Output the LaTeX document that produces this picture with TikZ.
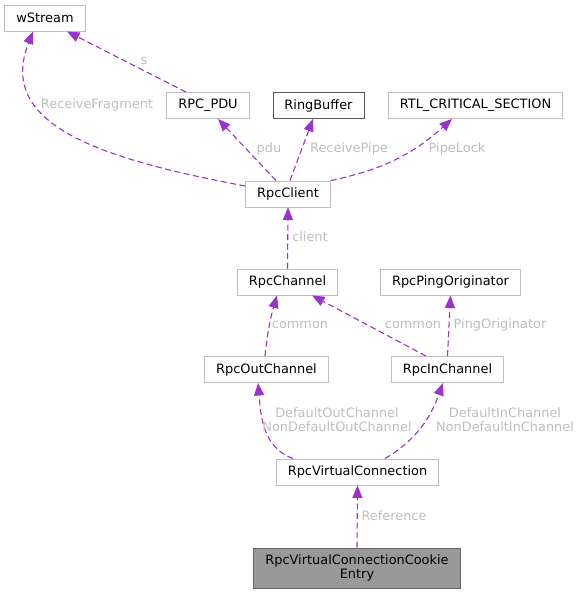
\documentclass[tikz,border=0pt]{standalone}
\usepackage{fontspec}
\setmainfont{DejaVu Sans}
\usetikzlibrary{arrows.meta}
\definecolor{edgecol}{HTML}{9A32CD}
\definecolor{lblcol}{HTML}{BEBEBE}
\definecolor{boxcol}{HTML}{BFBFBF}
\tikzset{
  every node/.style={font=\fontsize{12.9}{14}\selectfont},
  cls/.style={draw=boxcol, line width=0.9pt, fill=white, inner xsep=11.5pt, minimum height=26pt},
  edge/.style={draw=edgecol, line width=1.1pt, dash pattern=on 6pt off 3.5pt,
    -{Triangle[length=12.5pt,width=10pt]}},
  lbl/.style={text=lblcol, inner sep=0pt, align=center}
}
\begin{document}
\begin{tikzpicture}[x=1pt,y=1pt]
  \useasboundingbox (0,0) rectangle (581,-593);
  % classes
  \node[cls] (wstream) at (45,-18) {wStream};
  \node[cls] (rpcpdu) at (208,-105.5) {RPC\_PDU};
  \node[cls, draw=black!65] (ringbuffer) at (318.5,-105.5) {RingBuffer};
  \node[cls] (rtlcs) at (475.5,-105.5) {RTL\_CRITICAL\_SECTION};
  \node[cls] (rpcclient) at (288,-194) {RpcClient};
  \node[cls] (rpcchannel) at (287.5,-282) {RpcChannel};
  \node[cls] (pingorig) at (450.5,-282) {RpcPingOriginator};
  \node[cls] (outchannel) at (266.5,-369.5) {RpcOutChannel};
  \node[cls] (inchannel) at (447.5,-369.5) {RpcInChannel};
  \node[cls] (vconn) at (357.5,-472) {RpcVirtualConnection};
  \node[cls, fill=black!40, draw=black!60, minimum height=40pt, align=center]
    (cookie) at (357,-568) {RpcVirtualConnectionCookie\\Entry};
  % usage edges
  \draw[edge] ([xshift=-22pt]rpcpdu.north) -- ([xshift=22pt]wstream.south);
  \draw[edge] ([yshift=8pt]rpcclient.west) .. controls +(-150,28) and +(-36,-92)
    .. ([xshift=-12pt]wstream.south);
  \draw[edge] ([xshift=-12pt]rpcclient.north) -- ([xshift=10pt]rpcpdu.south);
  \draw[edge] ([xshift=2pt]rpcclient.north) -- ([xshift=-5.5pt]ringbuffer.south);
  \draw[edge] (rpcclient.north east) to[bend right=15] ([xshift=-23.5pt]rtlcs.south);
  \draw[edge] (rpcchannel.north) -- (rpcclient.south);
  \draw[edge] ([xshift=-1.5pt]outchannel.north) to[bend left=5] ([xshift=-10.5pt]rpcchannel.south);
  \draw[edge] ([xshift=-21.5pt]inchannel.north) -- ([xshift=24.5pt]rpcchannel.south);
  \draw[edge] (inchannel.north) -- (pingorig.south);
  \draw[edge] ([xshift=-64.5pt]vconn.north) to[out=160,in=-85] ([xshift=-8.5pt]outchannel.south);
  \draw[edge] ([xshift=27.5pt]vconn.north) to[out=31,in=-110] ([xshift=-4.5pt]inchannel.south);
  \draw[edge] (cookie.north) -- (vconn.south);
  % edge labels
  \node[lbl] (l-s) at (144,-61) {s};
  \node[lbl] (l-recvfrag) at (97,-105) {ReceiveFragment};
  \node[lbl] (l-pdu) at (269,-149) {pdu};
  \node[lbl] (l-recvpipe) at (349,-149) {ReceivePipe};
  \node[lbl] (l-pipelock) at (457,-149) {PipeLock};
  \node[lbl] (l-client) at (310,-237) {client};
  \node[lbl] (l-common1) at (300,-325) {common};
  \node[lbl] (l-common2) at (413,-325) {common};
  \node[lbl] (l-ping) at (500,-325) {PingOriginator};
  \node[lbl] (l-outch) at (337,-420) {DefaultOutChannel\\NonDefaultOutChannel};
  \node[lbl] (l-inch) at (505,-420) {DefaultInChannel\\NonDefaultInChannel};
  \node[lbl] (l-ref) at (394,-516) {Reference};
\end{tikzpicture}
\end{document}
